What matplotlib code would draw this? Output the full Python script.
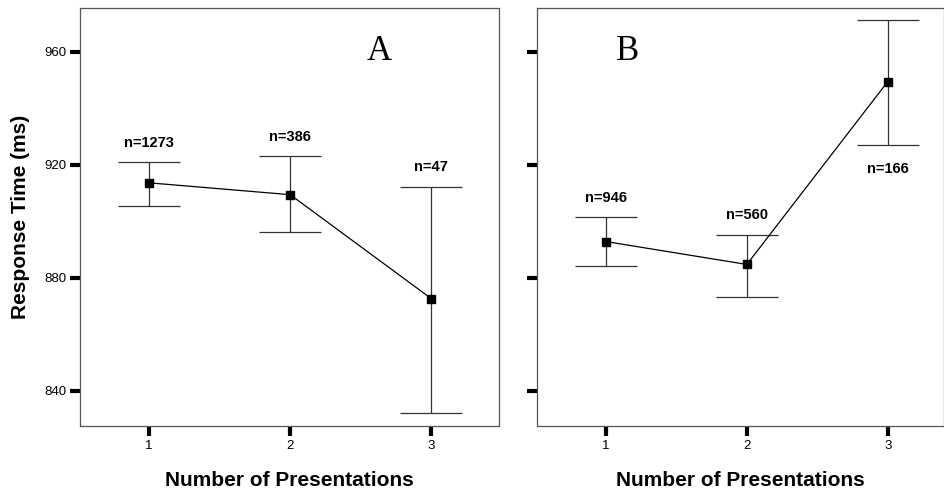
import matplotlib
matplotlib.use("Agg")
import matplotlib.pyplot as plt

presentations = [1, 2, 3]
means_a = [913.6, 909.4, 872.6]
upper_a = [920.9, 923.0, 912.2]
lower_a = [905.5, 896.2, 832.2]
n_a = ["n=1273", "n=386", "n=47"]

means_b = [892.8, 884.7, 949.4]
upper_b = [901.5, 895.3, 971.3]
lower_b = [884.0, 873.3, 927.0]
n_b = ["n=946", "n=560", "n=166"]

yticks = [840, 880, 920, 960]

plt.rcParams['font.family'] = ['Liberation Sans', 'DejaVu Sans']

fig = plt.figure(figsize=(9.45, 4.95), dpi=100)
W, H = 945, 495
axA = fig.add_axes([80 / W, 1 - 426 / H, 419 / W, 418 / H])
axB = fig.add_axes([537 / W, 1 - 426 / H, 407 / W, 418 / H])


def draw(ax, means, upper, lower, labels, letter, letter_x, below_idx, xlim):
    yerr = [[m - l for m, l in zip(means, lower)], [u - m for m, u in zip(means, upper)]]
    ax.errorbar(presentations, means, yerr=yerr, fmt='s-', color='black', ms=6,
                lw=0.9, elinewidth=0.9, ecolor='#333333', capsize=22, capthick=0.9,
                markerfacecolor='black', markeredgecolor='black')
    for i, (x, lab) in enumerate(zip(presentations, labels)):
        if i == below_idx:
            ax.annotate(lab, (x, lower[i]), xytext=(0, -12), textcoords='offset points',
                        ha='center', va='top', fontsize=10.5, fontweight='bold')
        else:
            ax.annotate(lab, (x, upper[i]), xytext=(0, 9), textcoords='offset points',
                        ha='center', va='bottom', fontsize=10.5, fontweight='bold')
    ax.text(letter_x, 960, letter, ha='center', va='center', fontsize=25,
            family=['Liberation Serif', 'DejaVu Serif'])
    ax.set_xlim(*xlim)
    ax.set_ylim(827.5, 975.5)
    ax.set_xticks(presentations)
    ax.set_yticks(yticks)
    ax.tick_params(axis='both', direction='out', length=7, width=3, labelsize=9.5, pad=3)
    for s in ax.spines.values():
        s.set_color('#555555')
        s.set_linewidth(0.9)
    ax.set_xlabel('Number of Presentations', fontsize=15, fontweight='bold', labelpad=14)


draw(axA, means_a, upper_a, lower_a, n_a, 'A', 2.63, None, (0.51, 3.48))
draw(axB, means_b, upper_b, lower_b, n_b, 'B', 1.15, 2, (0.51, 3.40))
axA.set_ylabel('Response Time (ms)', fontsize=15, fontweight='bold', labelpad=10)
axB.set_yticklabels([])

fig.savefig('out.png', dpi=100)
